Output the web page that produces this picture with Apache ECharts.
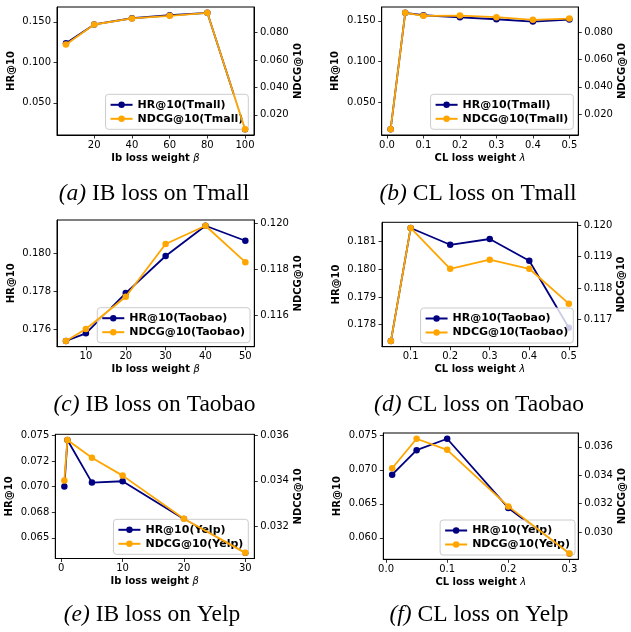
<!DOCTYPE html>
<html>
<head>
<meta charset="utf-8">
<script src="https://cdn.jsdelivr.net/npm/echarts@6/dist/echarts.min.js"></script>
<style>
html,body{margin:0;padding:0;background:#fff;}
#chart{width:631px;height:632px;}
</style>
</head>
<body>
<div id="chart"></div>
<script>
// (a) IB loss on Tmall
var tmallBeta = [5, 20, 40, 60, 80, 100];
var tmallBetaHR = [0.1236, 0.1467, 0.1544, 0.1581, 0.1611, 0.0174];
var tmallBetaNDCG = [0.0712, 0.0858, 0.0902, 0.0921, 0.0943, 0.0096];
// (b) CL loss on Tmall
var tmallLambda = [0.01, 0.05, 0.1, 0.2, 0.3, 0.4, 0.5];
var tmallLambdaHR = [0.0167, 0.1599, 0.1569, 0.1544, 0.1520, 0.1491, 0.1516];
var tmallLambdaNDCG = [0.0092, 0.0939, 0.0917, 0.0919, 0.0907, 0.0888, 0.0897];
// (c) IB loss on Taobao
var taobaoBeta = [5, 10, 20, 30, 40, 50];
var taobaoBetaHR = [0.17541, 0.17581, 0.17793, 0.17988, 0.18147, 0.18068];
var taobaoBetaNDCG = [0.11490, 0.11542, 0.11682, 0.11911, 0.11990, 0.11832];
// (d) CL loss on Taobao
var taobaoLambda = [0.05, 0.1, 0.2, 0.3, 0.4, 0.5];
var taobaoLambdaHR = [0.17740, 0.18150, 0.18089, 0.18110, 0.18031, 0.17788];
var taobaoLambdaNDCG = [0.11631, 0.11991, 0.11861, 0.11890, 0.11861, 0.11750];
// (e) IB loss on Yelp
var yelpBeta = [0.5, 1, 5, 10, 20, 30];
var yelpBetaHR = [0.07000, 0.07455, 0.07039, 0.07052, 0.06685, 0.06354];
var yelpBetaNDCG = [0.03402, 0.03580, 0.03502, 0.03423, 0.03233, 0.03083];
// (f) CL loss on Yelp
var yelpLambda = [0.01, 0.05, 0.1, 0.2, 0.3];
var yelpLambdaHR = [0.06928, 0.07288, 0.07456, 0.06439, 0.05769];
var yelpLambdaNDCG = [0.03449, 0.03657, 0.03579, 0.03181, 0.02849];

// tick values + labels
var betaTicksTmall = [20, 40, 60, 80, 100];
var betaLabelsTmall = ['20', '40', '60', '80', '100'];
var lambdaTicksTmall = [0, 0.1, 0.2, 0.3, 0.4, 0.5];
var lambdaLabelsTmall = ['0.0', '0.1', '0.2', '0.3', '0.4', '0.5'];
var hrTicksTmall = [0.05, 0.10, 0.15];
var hrLabelsTmall = ['0.050', '0.100', '0.150'];
var ndcgTicksTmall = [0.02, 0.04, 0.06, 0.08];
var ndcgLabelsTmall = ['0.020', '0.040', '0.060', '0.080'];

var betaTicksTaobao = [10, 20, 30, 40, 50];
var betaLabelsTaobao = ['10', '20', '30', '40', '50'];
var lambdaTicksTaobao = [0.1, 0.2, 0.3, 0.4, 0.5];
var lambdaLabelsTaobao = ['0.1', '0.2', '0.3', '0.4', '0.5'];
var hrTicksTaobaoB = [0.176, 0.178, 0.180];
var hrLabelsTaobaoB = ['0.176', '0.178', '0.180'];
var ndcgTicksTaobaoB = [0.116, 0.118, 0.120];
var ndcgLabelsTaobaoB = ['0.116', '0.118', '0.120'];
var hrTicksTaobaoL = [0.178, 0.179, 0.180, 0.181];
var hrLabelsTaobaoL = ['0.178', '0.179', '0.180', '0.181'];
var ndcgTicksTaobaoL = [0.117, 0.118, 0.119, 0.120];
var ndcgLabelsTaobaoL = ['0.117', '0.118', '0.119', '0.120'];

var betaTicksYelp = [0, 10, 20, 30];
var betaLabelsYelp = ['0', '10', '20', '30'];
var lambdaTicksYelp = [0, 0.1, 0.2, 0.3];
var lambdaLabelsYelp = ['0.0', '0.1', '0.2', '0.3'];
var hrTicksYelpB = [0.065, 0.0675, 0.070, 0.0725, 0.075];
var hrLabelsYelpB = ['0.065', '0.068', '0.070', '0.072', '0.075'];
var ndcgTicksYelpB = [0.032, 0.034, 0.036];
var ndcgLabelsYelpB = ['0.032', '0.034', '0.036'];
var hrTicksYelpL = [0.060, 0.065, 0.070, 0.075];
var hrLabelsYelpL = ['0.060', '0.065', '0.070', '0.075'];
var ndcgTicksYelpL = [0.030, 0.032, 0.034, 0.036];
var ndcgLabelsYelpL = ['0.030', '0.032', '0.034', '0.036'];

var panels = [
  {tag:'(a)', cap:' IB loss on Tmall', ds:'Tmall', xName:'Ib loss weight ', sym:'β',
   x:tmallBeta, hr:tmallBetaHR, ndcg:tmallBetaNDCG,
   xt:betaTicksTmall, xl:betaLabelsTmall, ht:hrTicksTmall, hl:hrLabelsTmall, nt:ndcgTicksTmall, nl:ndcgLabelsTmall,
   box:[57,7,197,128], leg:[248.3,94.3], capPos:[154,182]},
  {tag:'(b)', cap:' CL loss on Tmall', ds:'Tmall', xName:'CL loss weight ', sym:'λ',
   x:tmallLambda, hr:tmallLambdaHR, ndcg:tmallLambdaNDCG,
   xt:lambdaTicksTmall, xl:lambdaLabelsTmall, ht:hrTicksTmall, hl:hrLabelsTmall, nt:ndcgTicksTmall, nl:ndcgLabelsTmall,
   box:[381.7,7,196.6,128], leg:[573.3,94.3], capPos:[478,182]},
  {tag:'(c)', cap:' IB loss on Taobao', ds:'Taobao', xName:'Ib loss weight ', sym:'β',
   x:taobaoBeta, hr:taobaoBetaHR, ndcg:taobaoBetaNDCG,
   xt:betaTicksTaobao, xl:betaLabelsTaobao, ht:hrTicksTaobaoB, hl:hrLabelsTaobaoB, nt:ndcgTicksTaobaoB, nl:ndcgLabelsTaobaoB,
   box:[57,220,197.3,126.7], leg:[250,307.7], capPos:[154.5,393]},
  {tag:'(d)', cap:' CL loss on Taobao', ds:'Taobao', xName:'CL loss weight ', sym:'λ',
   x:taobaoLambda, hr:taobaoLambdaHR, ndcg:taobaoLambdaNDCG,
   xt:lambdaTicksTaobao, xl:lambdaLabelsTaobao, ht:hrTicksTaobaoL, hl:hrLabelsTaobaoL, nt:ndcgTicksTaobaoL, nl:ndcgLabelsTaobaoL,
   box:[382,222.3,195.7,124.4], leg:[573.3,308], capPos:[479,393]},
  {tag:'(e)', cap:' IB loss on Yelp', ds:'Yelp', xName:'Ib loss weight ', sym:'β',
   x:yelpBeta, hr:yelpBetaHR, ndcg:yelpBetaNDCG,
   xt:betaTicksYelp, xl:betaLabelsYelp, ht:hrTicksYelpB, hl:hrLabelsYelpB, nt:ndcgTicksYelpB, nl:ndcgLabelsYelpB,
   box:[55.3,434.3,199,124.2], leg:[248.3,519.3], capPos:[152,603]},
  {tag:'(f)', cap:' CL loss on Yelp', ds:'Yelp', xName:'CL loss weight ', sym:'λ',
   x:yelpLambda, hr:yelpLambdaHR, ndcg:yelpLambdaNDCG,
   xt:lambdaTicksYelp, xl:lambdaLabelsYelp, ht:hrTicksYelpL, hl:hrLabelsYelpL, nt:ndcgTicksYelpL, nl:ndcgLabelsYelpL,
   box:[383.3,433,195,126.3], leg:[575,520], capPos:[479,603]}
];

var NAVY = '#000080', ORANGE = '#FFA500';
var tickFont = {fontFamily:'DejaVu Sans', fontSize:10, color:'#000'};

// matplotlib style 5% margins
function pad(arr){
  var lo = Math.min.apply(null, arr), hi = Math.max.apply(null, arr);
  var m = (hi - lo) * 0.05;
  return [lo - m, hi + m];
}
function fmt(ticks, labels){
  return function(v){
    for (var k = 0; k < ticks.length; k++) {
      if (Math.abs(ticks[k] - v) < 1e-9) return labels[k];
    }
    return '';
  };
}

var grids = [], xAxes = [], yAxes = [], series = [], legends = [], titles = [];
panels.forEach(function(p, i){
  grids.push({left:p.box[0], top:p.box[1], width:p.box[2], height:p.box[3],
    show:true, borderColor:'#000', borderWidth:1, backgroundColor:'transparent'});
  var xr = pad(p.x), hr = pad(p.hr), nr = pad(p.ndcg);
  xAxes.push({
    type:'value', gridIndex:i, min:xr[0], max:xr[1],
    name:p.xName + '{s|' + p.sym + '}', nameLocation:'middle', nameGap:18,
    nameTextStyle:{fontFamily:'DejaVu Sans', fontWeight:'bold', fontSize:10, color:'#000',
      rich:{s:{fontFamily:'DejaVu Sans', fontStyle:'italic', fontWeight:'normal', fontSize:10, color:'#000'}}},
    axisLine:{show:true, onZero:false, lineStyle:{color:'#000', width:1}},
    axisTick:{show:true, length:3.5, customValues:p.xt, lineStyle:{color:'#000', width:0.8}},
    axisLabel:Object.assign({customValues:p.xt, formatter:fmt(p.xt, p.xl), margin:5}, tickFont),
    splitLine:{show:false}
  });
  yAxes.push({
    type:'value', gridIndex:i, position:'left', min:hr[0], max:hr[1],
    name:'HR@10', nameLocation:'middle', nameGap:41, nameRotate:90,
    nameTextStyle:{fontFamily:'DejaVu Sans', fontWeight:'bold', fontSize:10, color:'#000'},
    axisLine:{show:true, onZero:false, lineStyle:{color:'#000', width:1}},
    axisTick:{show:true, length:3.5, customValues:p.ht, lineStyle:{color:'#000', width:0.8}},
    axisLabel:Object.assign({customValues:p.ht, formatter:fmt(p.ht, p.hl), margin:6}, tickFont),
    splitLine:{show:false}
  });
  yAxes.push({
    type:'value', gridIndex:i, position:'right', min:nr[0], max:nr[1],
    name:'NDCG@10', nameLocation:'middle', nameGap:39, nameRotate:90,
    nameTextStyle:{fontFamily:'DejaVu Sans', fontWeight:'bold', fontSize:10, color:'#000'},
    axisLine:{show:true, onZero:false, lineStyle:{color:'#000', width:1}},
    axisTick:{show:true, length:3.5, customValues:p.nt, lineStyle:{color:'#000', width:0.8}},
    axisLabel:Object.assign({customValues:p.nt, formatter:fmt(p.nt, p.nl), margin:6}, tickFont),
    splitLine:{show:false}
  });
  var hrName = 'HR@10(' + p.ds + ')', ndName = 'NDCG@10(' + p.ds + ')';
  // HR sits under the legend, NDCG (twin axis) is drawn over it
  series.push({
    type:'line', name:hrName, xAxisIndex:i, yAxisIndex:2*i, z:2,
    data:p.x.map(function(x, k){ return [x, p.hr[k]]; }),
    symbol:'circle', symbolSize:6.5, lineStyle:{color:NAVY, width:1.8}, itemStyle:{color:NAVY}
  });
  series.push({
    type:'line', name:ndName, xAxisIndex:i, yAxisIndex:2*i+1, z:6,
    data:p.x.map(function(x, k){ return [x, p.ndcg[k]]; }),
    symbol:'circle', symbolSize:6.5, lineStyle:{color:ORANGE, width:1.8}, itemStyle:{color:ORANGE}
  });
  legends.push({
    data:[hrName, ndName], orient:'vertical', right:631 - p.leg[0], top:p.leg[1], z:4,
    itemWidth:22, itemHeight:8, itemGap:1, padding:[4,5,4,4], selectedMode:false,
    backgroundColor:'rgba(255,255,255,0.8)', borderColor:'#ccc', borderWidth:1, borderRadius:3,
    textStyle:{fontFamily:'DejaVu Sans', fontWeight:'bold', fontSize:11, color:'#000', lineHeight:13}
  });
  titles.push({
    text:'{i|' + p.tag + '}' + p.cap, left:p.capPos[0], top:p.capPos[1], textAlign:'center', padding:0,
    textStyle:{fontFamily:'Liberation Serif', fontSize:23.5, fontWeight:'normal', color:'#000',
      rich:{i:{fontFamily:'Liberation Serif', fontStyle:'italic', fontSize:23.5, color:'#000'}}}
  });
});

var chart = echarts.init(document.getElementById('chart'), null, {renderer:'canvas'});
chart.setOption({
  animation:false,
  backgroundColor:'#fff',
  title:titles,
  legend:legends,
  grid:grids,
  xAxis:xAxes,
  yAxis:yAxes,
  series:series
});
</script>
</body>
</html>
